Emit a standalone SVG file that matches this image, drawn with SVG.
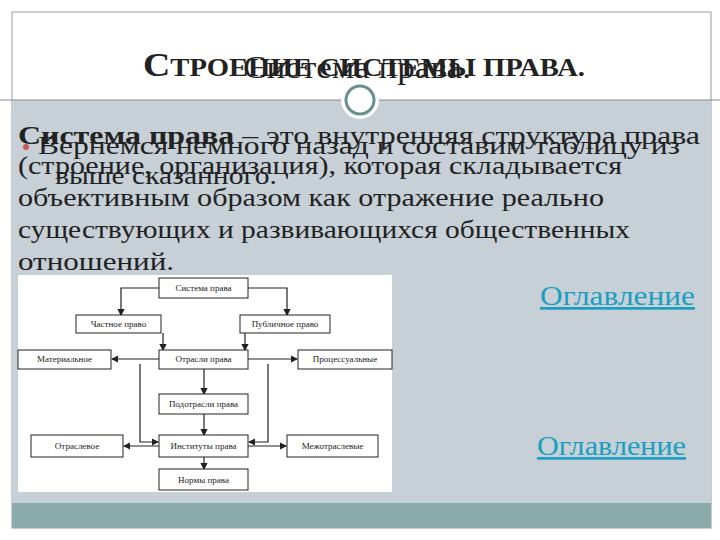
<svg xmlns="http://www.w3.org/2000/svg" width="720" height="540" viewBox="0 0 720 540">
<style>
.b{fill:#fff;stroke:#222;stroke-width:1}
.t{font-family:"Liberation Serif",serif;font-size:9px;fill:#222;text-anchor:middle}
.c{fill:none;stroke:#222;stroke-width:1.2;marker-end:url(#a)}
.s{font-family:"Liberation Serif",serif;fill:#222}
.k{font-family:"Liberation Serif",serif;font-size:27px;fill:#1a9fc0;text-decoration:underline}
</style>
<defs><marker id="a" markerWidth="6" markerHeight="6" refX="5" refY="3" orient="auto"><path d="M0,0L6,3L0,6z" fill="#222"/></marker></defs>
<rect x="0" y="0" width="720" height="540" fill="#fff"/>
<rect x="12" y="12" width="699" height="516" fill="#fff" stroke="#999"/>
<rect x="12" y="100" width="699" height="403" fill="#c6d0d6"/>
<rect x="12" y="503" width="699" height="25" fill="#8aabaa"/>
<line x1="0" y1="100" x2="720" y2="100" stroke="#888"/>
<circle cx="360" cy="100" r="19" fill="#fff"/>
<circle cx="360" cy="100" r="14" fill="#fff" stroke="#6a8f8f" stroke-width="3"/>
<text class="s" x="143" y="76" font-size="25" font-weight="bold" textLength="442" lengthAdjust="spacingAndGlyphs"><tspan font-size="33">С</tspan>ТРОЕНИЕ СИСТЕМЫ ПРАВА.</text>
<text class="s" x="243" y="78" font-size="32" textLength="228" lengthAdjust="spacingAndGlyphs">Система права.</text>
<text class="s" x="18" y="144" font-size="26" textLength="682" lengthAdjust="spacingAndGlyphs"><tspan font-weight="bold">Система права</tspan> – это внутренняя структура права</text>
<circle cx="26" cy="147" r="3" fill="#c55"/>
<text class="s" x="38" y="154" font-size="26" textLength="642" lengthAdjust="spacingAndGlyphs">Вернемся немного назад и составим таблицу из</text>
<text class="s" x="18" y="174" font-size="26" textLength="604" lengthAdjust="spacingAndGlyphs">(строение, организация), которая складывается</text>
<text class="s" x="55" y="184" font-size="26" textLength="222" lengthAdjust="spacingAndGlyphs">выше сказанного.</text>
<text class="s" x="18" y="206" font-size="26" textLength="586" lengthAdjust="spacingAndGlyphs">объективным образом как отражение реально</text>
<text class="s" x="18" y="238" font-size="26" textLength="612" lengthAdjust="spacingAndGlyphs">существующих и развивающихся общественных</text>
<text class="s" x="18" y="270" font-size="26" textLength="156" lengthAdjust="spacingAndGlyphs">отношений.</text>
<rect x="18" y="275" width="374" height="217" fill="#fff"/>
<g id="connectors">
<path class="c" d="M159,288H121V315"/>
<path class="c" d="M248,288H287V315"/>
<path class="c" d="M163,333V350"/>
<path class="c" d="M245,333V350"/>
<path class="c" d="M159,359H112"/>
<path class="c" d="M248,359H297"/>
<path class="c" d="M204,369V394"/>
<path class="c" d="M204,414V435"/>
<path class="c" d="M204,457V469"/>
<path class="c" d="M140,364V442H158"/>
<path class="c" d="M268,364V442H249"/>
<path class="c" d="M159,446H124"/>
<path class="c" d="M248,446H286"/>
</g>
<g id="n1"><rect class="b" x="159" y="278" width="89" height="20"/><text class="t" x="203.5" y="291">Система права</text></g>
<g id="n2"><rect class="b" x="76" y="315" width="85" height="18"/><text class="t" x="118.5" y="327">Частное право</text></g>
<g id="n3"><rect class="b" x="240" y="315" width="90" height="18"/><text class="t" x="285" y="327">Публичное право</text></g>
<g id="n4"><rect class="b" x="18" y="350" width="93" height="19"/><text class="t" x="64.5" y="362">Материальное</text></g>
<g id="n5"><rect class="b" x="159" y="350" width="89" height="19"/><text class="t" x="203.5" y="362">Отрасли права</text></g>
<g id="n6"><rect class="b" x="298" y="350" width="94" height="19"/><text class="t" x="345" y="362">Процессуальные</text></g>
<g id="n7"><rect class="b" x="159" y="394" width="89" height="20"/><text class="t" x="203.5" y="407">Подотрасли права</text></g>
<g id="n8"><rect class="b" x="31" y="435" width="92" height="22"/><text class="t" x="77" y="449">Отраслевое</text></g>
<g id="n9"><rect class="b" x="159" y="435" width="89" height="22"/><text class="t" x="203.5" y="449">Институты права</text></g>
<g id="n10"><rect class="b" x="287" y="435" width="91" height="22"/><text class="t" x="332.5" y="449">Межотраслевые</text></g>
<g id="n11"><rect class="b" x="159" y="469" width="89" height="21"/><text class="t" x="203.5" y="483">Нормы права</text></g>
<text class="k" x="540" y="305" textLength="155" lengthAdjust="spacingAndGlyphs">Оглавление</text>
<text class="k" x="537" y="455" textLength="149" lengthAdjust="spacingAndGlyphs">Оглавление</text>
</svg>
